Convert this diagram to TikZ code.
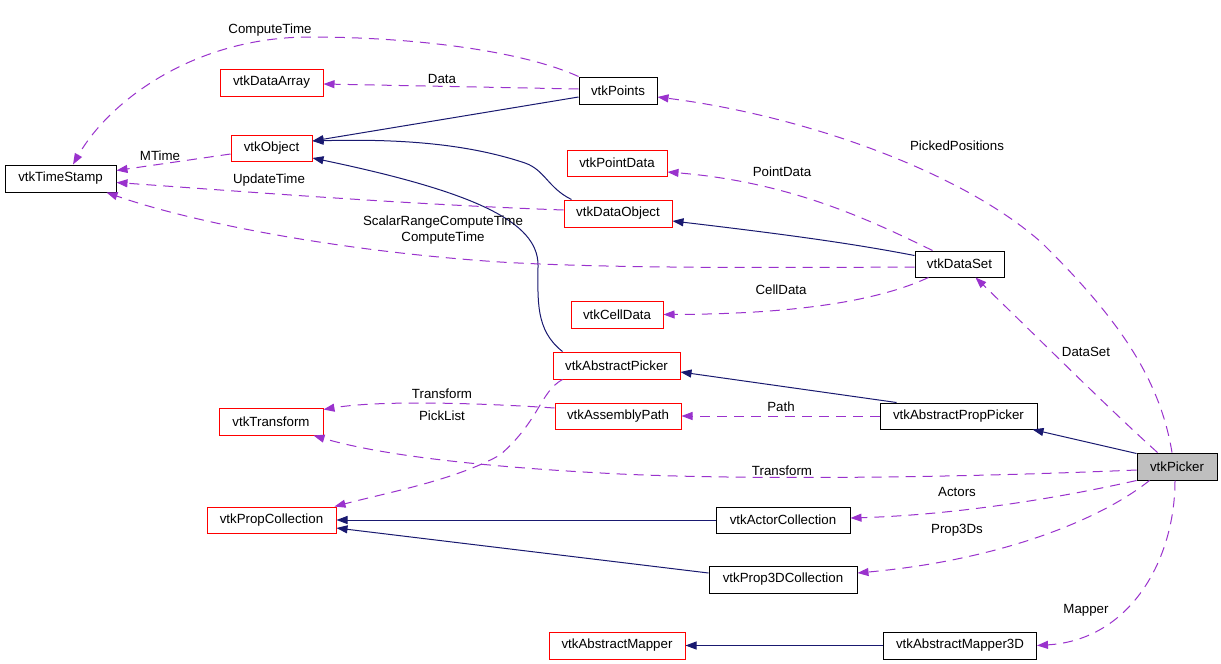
\documentclass[tikz,border=0pt]{standalone}
\usepackage{fontspec}
\setmainfont{Liberation Sans}
\usetikzlibrary{arrows.meta,calc}
\definecolor{inhc}{RGB}{25,25,112}
\definecolor{usec}{RGB}{154,50,205}
\definecolor{pickgray}{RGB}{191,191,191}
\begin{document}
\begin{tikzpicture}[x=1pt,y=-1pt,
  font=\fontsize{13.3}{16}\selectfont,
  cls/.style={draw=black, line width=1pt, inner sep=0pt, minimum height=27pt, fill=white},
  ext/.style={cls, draw=red},
  inh/.style={draw=inhc, line width=1pt, -{Triangle[length=11pt,width=8pt]}},
  use/.style={draw=usec, line width=1pt, dash pattern=on 10pt off 7pt, -{Triangle[length=11pt,width=8pt]}},
  lbl/.style={inner sep=0pt, text=black}
]
\fill[white] (0,0) rectangle (1221,664);
\useasboundingbox (0,0) rectangle (1221,664);

% classes
\node[cls, minimum width=111pt] (ts) at (60.5,178.5) {vtkTimeStamp};
\node[ext, minimum width=103pt] (da) at (271.5,82.5) {vtkDataArray};
\node[cls, minimum width=78pt] (pts) at (618,90.5) {vtkPoints};
\node[ext, minimum width=81pt, minimum height=26pt] (obj) at (271.5,148) {vtkObject};
\node[ext, minimum width=100pt, minimum height=26pt] (pd) at (617,163) {vtkPointData};
\node[ext, minimum width=108pt] (dobj) at (618,213.5) {vtkDataObject};
\node[cls, minimum width=89pt, minimum height=26pt] (ds) at (959.5,264) {vtkDataSet};
\node[ext, minimum width=92pt] (cd) at (617,314.5) {vtkCellData};
\node[ext, minimum width=127pt] (ap) at (616.5,365.5) {vtkAbstractPicker};
\node[ext, minimum width=126pt, minimum height=26pt] (asp) at (618,416) {vtkAssemblyPath};
\node[ext, minimum width=104pt] (tr) at (271,421.5) {vtkTransform};
\node[cls, minimum width=157pt, minimum height=26pt] (app) at (958.5,416) {vtkAbstractPropPicker};
\node[cls, fill=pickgray, minimum width=80pt] (pk) at (1177,466.5) {vtkPicker};
\node[ext, minimum width=129pt, minimum height=26pt] (pc) at (271.5,520) {vtkPropCollection};
\node[cls, minimum width=134pt, minimum height=26pt] (ac) at (783,520) {vtkActorCollection};
\node[cls, minimum width=148pt] (p3c) at (783,579.5) {vtkProp3DCollection};
\node[ext, minimum width=136pt] (am) at (617,645.5) {vtkAbstractMapper};
\node[cls, minimum width=153pt] (am3) at (960,645.5) {vtkAbstractMapper3D};

% inheritance
\draw[inh] ($(pts.west)+(0,6.5)$) -- ($(obj.east)+(0,-7)$);
\draw[inh] ($(dobj.north west)+(8,0)$) .. controls (548,188) and (545,170) .. (525,163)
   .. controls (480,148) and (420,138) .. ($(obj.east)+(0,-7)$);
\draw[inh] ($(ap.north west)+(10,0)$) .. controls (535,330) and (538,300) .. (538,265)
   .. controls (538,222) and (475,192) .. ($(obj.east)+(0,10)$);
\draw[inh] ($(ds.north west)+(0,5)$) .. controls (860,245) and (800,236) .. ($(dobj.east)+(0,7.5)$);
\draw[inh] ($(app.north west)+(17,0)$) -- ($(ap.east)+(0,6.5)$);
\draw[inh] ($(pk.north west)+(0,1)$) -- ($(app.south east)+(-5,0)$);
\draw[inh] (ac.west) -- (pc.east);
\draw[inh] ($(p3c.west)+(0,-6.5)$) -- ($(pc.east)+(0,8)$);
\draw[inh] (am3.west) -- (am.east);

% usage
\draw[use] (pts.north west) .. controls (520,50) and (410,37) .. (310,37)
   .. controls (195,37) and (110,100) .. ($(ts.north)+(12.5,0)$);
\draw[use] ($(pts.west)+(0,-1.5)$) -- ($(da.east)+(0,1.5)$);
\draw[use] ($(obj.west)+(0,6)$) -- ($(ts.east)+(0,-8)$);
\draw[use] ($(dobj.west)+(0,-3.5)$) .. controls (400,204) and (250,192) .. ($(ts.east)+(0,4)$);
\draw[use] ($(ds.west)+(0,3)$) .. controls (750,268) and (600,268) .. (500,262)
   .. controls (350,252) and (200,225) .. ($(ts.south east)+(-10,0)$);
\draw[use] ($(ds.north west)+(18,0)$) .. controls (870,220) and (790,182) .. ($(pd.east)+(0,9)$);
\draw[use] ($(ds.south west)+(14,0)$) .. controls (880,300) and (800,314) .. (cd.east);
\draw[use] ($(pk.north)+(-5,0)$) .. controls (1160,380) and (1120,320) .. (1042,243)
   .. controls (960,170) and (800,115) .. ($(pts.east)+(0,6.5)$);
\draw[use] ($(pk.north west)+(21,0)$) .. controls (1110,410) and (1030,330) .. ($(ds.south)+(16,0)$);
\draw[use] ($(pk.west)+(0,3.5)$) .. controls (950,478) and (750,480) .. (620,474)
   .. controls (480,467) and (380,455) .. ($(tr.south east)+(-10,0)$);
\draw[use] ($(asp.west)+(0,-8)$) .. controls (480,403) and (380,400) .. ($(tr.east)+(0,-12)$);
\draw[use] ($(ap.south west)+(10,0)$) .. controls (540,392) and (540,420) .. (500,455)
   .. controls (455,480) and (390,492) .. ($(pc.north east)+(-2,0)$);
\draw[use] (app.west) -- (asp.east);
\draw[use] (pk.south west) .. controls (1050,500) and (950,515) .. ($(ac.east)+(0,-2)$);
\draw[use] ($(pk.south west)+(13,0)$) .. controls (1100,520) and (1000,560) .. ($(p3c.east)+(0,-6.5)$);
\draw[use] ($(pk.south)+(-2,0)$) .. controls (1175,560) and (1130,640) .. (am3.east);

% labels
\node[lbl] (l1) at (270,30) {ComputeTime};
\node[lbl] (l2) at (442,79) {Data};
\node[lbl] (l3) at (160,156) {MTime};
\node[lbl] (l4) at (269,180) {UpdateTime};
\node[lbl, align=center] (l5) at (443,230) {ScalarRangeComputeTime\\ComputeTime};
\node[lbl] (l6) at (782,172) {PointData};
\node[lbl] (l7) at (781,290) {CellData};
\node[lbl] (l8) at (957,146) {PickedPositions};
\node[lbl] (l9) at (1086,352) {DataSet};
\node[lbl] (l10) at (442,394) {Transform};
\node[lbl] (l11) at (442,416) {PickList};
\node[lbl] (l12) at (781,407) {Path};
\node[lbl] (l13) at (782,471) {Transform};
\node[lbl] (l14) at (957,492) {Actors};
\node[lbl] (l15) at (957,530) {Prop3Ds};
\node[lbl] (l16) at (1086,610) {Mapper};
\end{tikzpicture}
\end{document}
